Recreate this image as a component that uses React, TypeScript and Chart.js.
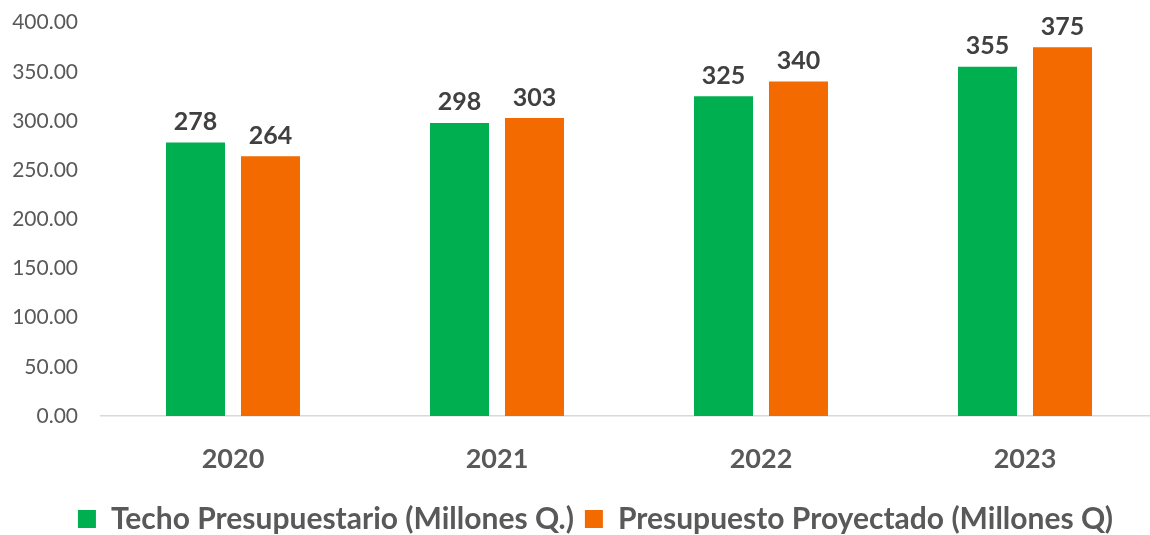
import React, { useEffect, useRef } from "react";
import { Chart, registerables } from "chart.js";

Chart.register(...registerables);

const categories = ["2020", "2021", "2022", "2023"];
const techoValues = [278, 298, 325, 355];
const proyectadoValues = [264, 303, 340, 375];
const seriesNames = ["Techo Presupuestario (Millones Q.)", "Presupuesto Proyectado (Millones Q)"];
const yTicks = [0, 50, 100, 150, 200, 250, 300, 350, 400];

const FONT = "Lato, 'Open Sans', sans-serif";

const dataLabelPlugin = {
  id: "dataLabels",
  afterDatasetsDraw(chart: any) {
    const ctx = chart.ctx;
    ctx.save();
    ctx.font = `bold 25px ${FONT}`;
    ctx.fillStyle = "#404040";
    ctx.textAlign = "center";
    ctx.textBaseline = "bottom";
    chart.data.datasets.forEach((ds: any, i: number) => {
      const meta = chart.getDatasetMeta(i);
      meta.data.forEach((el: any, j: number) => {
        ctx.fillText(String(ds.data[j]), el.x, el.y - 8);
      });
    });
    ctx.restore();
  },
};

const legendShiftPlugin = {
  id: "legendShift",
  afterLayout(chart: any) {
    if (chart.legend) {
      chart.legend.left += 17;
      chart.legend.right += 17;
    }
  },
};

export default function App() {
  const ref = useRef<HTMLCanvasElement | null>(null);
  useEffect(() => {
    document.body.style.margin = "0";
    document.body.style.overflow = "hidden";
    const chart = new Chart(ref.current!, {
      type: "bar",
      data: {
        labels: categories,
        datasets: [
          { label: seriesNames[0], data: techoValues, backgroundColor: "#00B050" },
          { label: seriesNames[1], data: proyectadoValues, backgroundColor: "#F26A00" },
        ],
      },
      options: {
        animation: false,
        responsive: false,
        maintainAspectRatio: false,
        layout: { padding: { top: 10, right: 5, left: 0, bottom: 1 } },
        datasets: { bar: { categoryPercentage: 0.568, barPercentage: 0.787 } },
        scales: {
          x: {
            afterFit: (s: any) => { s.height = 77; },
            grid: { display: false, drawTicks: false },
            border: { display: true, color: "#D9D9D9", width: 1.5 },
            ticks: { color: "#595959", font: { family: FONT, size: 27, weight: "bold" }, padding: 27 },
          },
          y: {
            min: 0,
            max: 400,
            afterBuildTicks: (s: any) => { s.ticks = yTicks.map((v) => ({ value: v })); },
            afterFit: (s: any) => { s.width = 101; },
            grid: { display: false, drawTicks: false },
            border: { display: false },
            ticks: {
              color: "#595959",
              font: { family: FONT, size: 21 },
              padding: 23,
              callback: (v: any) => Number(v).toFixed(2),
            },
          },
        },
        plugins: {
          tooltip: { enabled: false },
          legend: {
            position: "bottom",
            labels: {
              color: "#595959",
              font: { family: FONT, size: 30, weight: "bold" },
              boxWidth: 18,
              boxHeight: 18,
              padding: 11,
            },
          },
        },
      },
      plugins: [dataLabelPlugin, legendShiftPlugin],
    });
    return () => chart.destroy();
  }, []);
  return (
    <div style={{ width: 1162, height: 535, overflow: "hidden" }}>
      <canvas ref={ref} width={1162} height={558} style={{ display: "block", marginTop: -13 }} />
    </div>
  );
}
